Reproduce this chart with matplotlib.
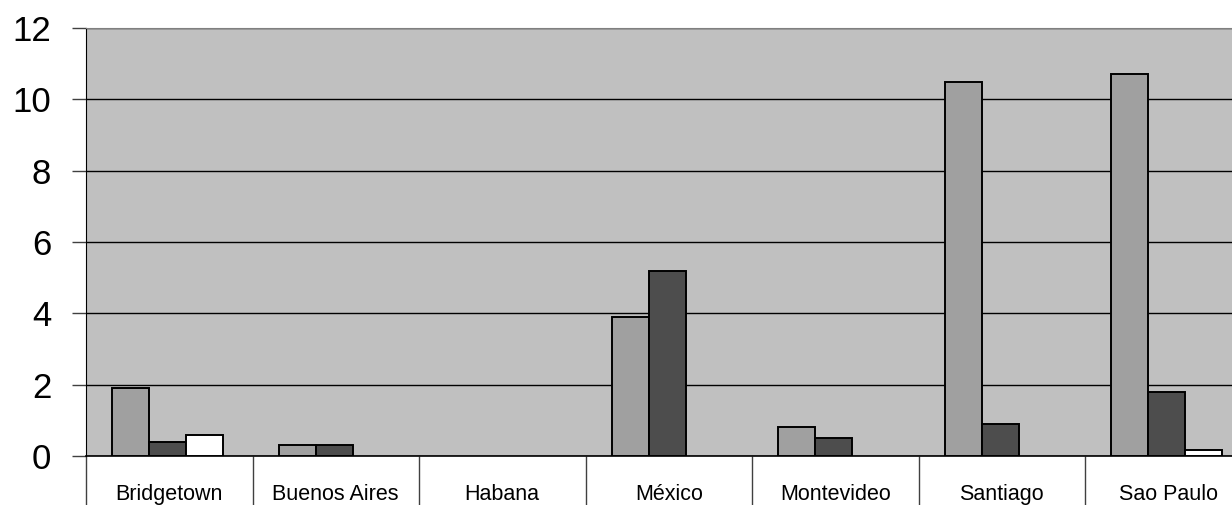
import numpy as np
import matplotlib
matplotlib.use('Agg')
import matplotlib.pyplot as plt
from matplotlib.ticker import FixedLocator, NullFormatter

plt.rcParams['font.family'] = ['Liberation Sans', 'DejaVu Sans']

CITIES = ['Bridgetown', 'Buenos Aires', 'Habana', 'México',
          'Montevideo', 'Santiago', 'Sao Paulo']
SERIES_1 = [1.9, 0.3, 0.0, 3.9, 0.8, 10.5, 10.7]
SERIES_2 = [0.4, 0.3, 0.0, 5.2, 0.5, 0.9, 1.8]
SERIES_3 = [0.6, 0.0, 0.0, 0.0, 0.0, 0.0, 0.17]
Y_TICKS = [0, 2, 4, 6, 8, 10, 12]

COLORS = ['#a0a0a0', '#4d4d4d', '#ffffff']

W, H = 1232, 505
fig = plt.figure(figsize=(W / 100, H / 100), dpi=100)
# plot area runs past the right edge of the picture, as in the original
ax = fig.add_axes([86 / W, (H - 456) / H, 1165.5 / W, 428 / H])
ax.set_facecolor('#c0c0c0')

x = np.arange(len(CITIES))
bw = 0.222
for k, vals in enumerate([SERIES_1, SERIES_2, SERIES_3]):
    v = np.array(vals, dtype=float)
    v[v == 0] = np.nan
    ax.bar(x + (k - 1) * bw - 0.01, v, width=bw, color=COLORS[k],
           edgecolor='black', linewidth=1.4, zorder=3)

ax.set_xlim(-0.5, len(CITIES) - 0.5)
ax.set_ylim(0, 12)
ax.set_yticks(Y_TICKS)
ax.yaxis.grid(True, color='black', linewidth=1.0, zorder=1)
ax.set_axisbelow(True)
ax.tick_params(axis='y', length=10, width=1.0, color='#404040',
               labelsize=25, pad=15)

# category labels + separators hanging under the axis
ax.set_xticks(x)
ax.set_xticklabels(CITIES, fontsize=15.5)
ax.tick_params(axis='x', which='major', length=0, pad=20)
ax.xaxis.set_minor_locator(FixedLocator(np.arange(len(CITIES) + 1) - 0.5))
ax.xaxis.set_minor_formatter(NullFormatter())
ax.tick_params(axis='x', which='minor', length=40, width=1.0,
               color='#404040', direction='out')

for s in ['top', 'right']:
    ax.spines[s].set_color('#808080')
ax.spines['left'].set_color('black')
ax.spines['bottom'].set_color('black')
ax.spines['bottom'].set_linewidth(1.2)

fig.savefig('out.png', dpi=100)
